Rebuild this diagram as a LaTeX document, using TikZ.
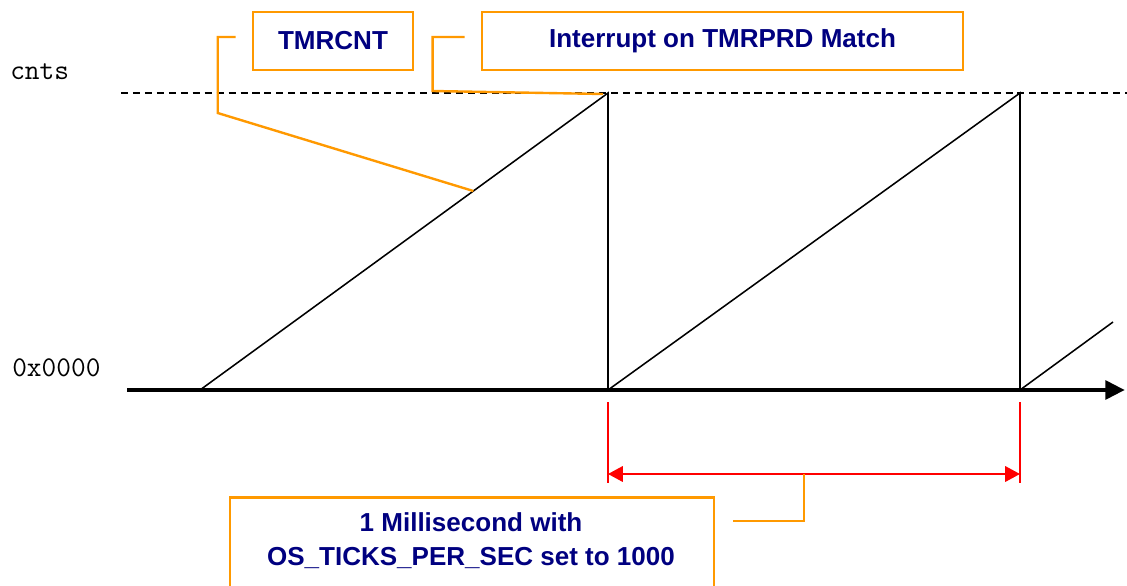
\documentclass[tikz,border=0pt]{standalone}
\usepackage{fontspec}
\setmainfont{Liberation Sans}
\usetikzlibrary{arrows.meta,calc,positioning}
\definecolor{calloutColor}{HTML}{FF9900}
\definecolor{boxTextColor}{HTML}{000080}
\definecolor{spanColor}{HTML}{FF0000}
\tikzset{
	callbox/.style={draw=calloutColor, line width=1.8pt, minimum height=1.45cm, inner sep=0pt},
	boxtext/.style={text=boxTextColor, font=\fontsize{18.5}{24}\selectfont\bfseries, align=center},
	callline/.style={draw=calloutColor, line width=1.7pt},
	spanline/.style={draw=spanColor, line width=1.3pt},
	axislabel/.style={font=\fontsize{20.3}{22}\selectfont\ttfamily, inner sep=0pt}
}

\begin{document}
\begin{tikzpicture}[x=0.025cm, y=-0.025cm]
	\clip (0,0) rectangle (1127,586);
	\fill[white] (0,0) rectangle (1127,586);
	\node[axislabel, anchor=base west] (cnts) at (10,79) {cnts};
	\node[axislabel, anchor=base west] (zero) at (12,376) {0x0000};
	\draw[dash pattern=on 5pt off 3.5pt, line width=0.9pt] (121,93) -- (1127,93);
	% time axis
	\coordinate (ax0) at (127,390);
	\coordinate (ax1) at (1125,390);
	\draw[line width=3.5pt, -{Triangle[length=14pt,width=13pt]}] (ax0) -- (ax1);
	% counter ramps
	\coordinate (r0) at (200,390);
	\coordinate (top1) at (608,93);
	\coordinate (f1) at (608,390);
	\coordinate (top2) at (1020,93);
	\coordinate (f2) at (1020,390);
	\coordinate (r3) at (1113,322);
	\coordinate (cnthit) at ($(r0)!0.67!(top1)$);
	\draw[line width=1.1pt] (r0) -- (top1) -- (f1) -- (top2) -- (f2) -- (r3);
	% callout boxes
	\node[callbox, boxtext, minimum width=4cm] (cntbox) at (333,41) {TMRCNT};
	\node[callbox, boxtext, minimum width=12.025cm] (intbox) at (722.5,41) {Interrupt on TMRPRD Match};
	\node[callbox, minimum width=12.1cm, minimum height=3cm, anchor=north] (msbox) at (472,496) {};
	\node[boxtext] (mstxt) at (471,541) {1 Millisecond with\\OS\_TICKS\_PER\_SEC set to 1000};
	% one tick span
	\coordinate (s1) at (608,474);
	\coordinate (s2) at (1020,474);
	\coordinate (spanmid) at (804,474);
	\draw[spanline] ($(f1)+(0,12)$) -- ($(f1)+(0,93)$);
	\draw[spanline] ($(f2)+(0,12)$) -- ($(f2)+(0,93)$);
	\draw[spanline, {Triangle[length=10.5pt,width=11pt]}-{Triangle[length=10.5pt,width=11pt]}] (s1) -- (s2);
	% leaders
	\draw[callline] ($(cntbox.west)+(-16,-4)$) -- ++(-18,0) -- ++(0,76) -- (cnthit);
	\draw[callline] ($(intbox.west)+(-16,-4)$) -- ++(-32,0) -- ++(0,54) -- ($(top1)+(-5,1)$);
	\draw[callline] (spanmid) -- ++(0,47) -- ($(msbox.north east)+(18,25)$);
\end{tikzpicture}
\end{document}
